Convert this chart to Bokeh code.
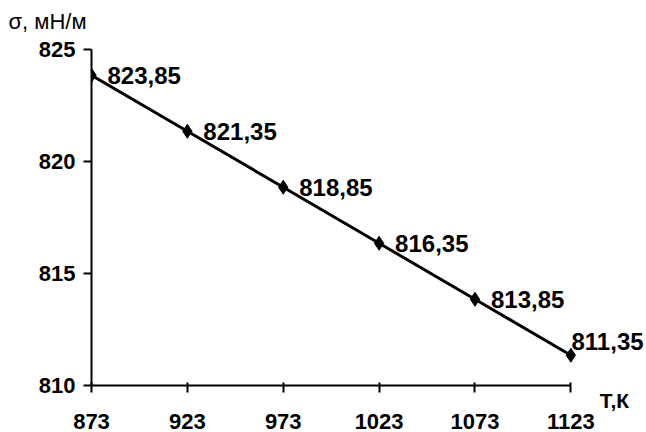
from bokeh.plotting import figure
from bokeh.models import Range1d, ColumnDataSource, LabelSet, FixedTicker, LinearAxis
from bokeh.core.properties import value
from bokeh.embed import file_html
from bokeh.resources import INLINE

temps = [873, 923, 973, 1023, 1073, 1123]
sigma = [823.85, 821.35, 818.85, 816.35, 813.85, 811.35]
y_ticks = [810, 815, 820, 825]
labels = [f"{v:.2f}".replace(".", ",") for v in sigma]

FONT = "Liberation Sans"
RIGHT = 28

p = figure(width=646, height=432, output_backend="svg", toolbar_location=None,
           x_range=Range1d(873, 873 + 250 * (646 - 91 - RIGHT) / 483),
           y_range=Range1d(810, 825.49),
           min_border_left=91, min_border_right=RIGHT, min_border_top=38, min_border_bottom=47)
p.outline_line_color = None
p.xgrid.visible = False
p.ygrid.visible = False

p.title.text = "σ, мН/м"
p.title.align = "left"
p.title.offset = -83
p.title.standoff = 10
p.title.text_font = FONT
p.title.text_font_style = "normal"
p.title.text_font_size = "22px"
p.title.text_color = "black"

for ax in (p.xaxis, p.yaxis):
    ax.axis_line_width = 2
    ax.axis_line_color = "black"
    ax.major_tick_line_width = 2
    ax.major_tick_line_color = "black"
    ax.minor_tick_line_color = None
    ax.major_label_text_font = FONT
    ax.major_label_text_font_style = "bold"
    ax.major_label_text_font_size = "22px"
    ax.major_label_text_color = "black"

p.xaxis.bounds = (873, 1123)
p.yaxis.bounds = (810, 825)
p.xaxis.ticker = FixedTicker(ticks=temps)
p.yaxis.ticker = FixedTicker(ticks=y_ticks)
p.xaxis.major_tick_in = 3
p.xaxis.major_tick_out = 7
p.yaxis.major_tick_in = 0
p.yaxis.major_tick_out = 8
p.xaxis.major_label_standoff = 21
p.yaxis.major_label_standoff = 8

p.xaxis.axis_label = "Т,К"
p.xaxis.axis_label_align = "end"
p.xaxis.axis_label_standoff = -43
p.xaxis.axis_label_text_font = FONT
p.xaxis.axis_label_text_font_style = "bold"
p.xaxis.axis_label_text_font_size = "21px"
p.xaxis.axis_label_text_color = "black"

src = ColumnDataSource(dict(x=temps, y=sigma))
p.line("x", "y", source=src, line_width=3, line_color="black")
p.scatter("x", "y", source=src, marker="diamond", size=14, color="black")

lab_src = ColumnDataSource(dict(x=temps[:-1], y=sigma[:-1], t=labels[:-1]))
ls = LabelSet(x="x", y="y", text="t", source=lab_src, x_offset=16, y_offset=0,
              text_font=value(FONT), text_font_style="bold", text_font_size="24px",
              text_baseline="middle", text_color="black")
p.add_layout(ls)

# label of the last point, placed as a right-side axis label so it is not clipped
last_pos = sigma[-1] + 0.62
rax = LinearAxis(ticker=FixedTicker(ticks=[last_pos]),
                 major_label_overrides={last_pos: labels[-1]},
                 axis_line_color=None, major_tick_line_color=None, minor_tick_line_color=None,
                 major_tick_in=0, major_tick_out=0, major_label_standoff=-(646 - RIGHT - 575),
                 major_label_text_font=FONT, major_label_text_font_style="bold",
                 major_label_text_font_size="24px", major_label_text_color="black")
p.add_layout(rax, "right")

open("out.html", "w").write(file_html(p, INLINE))
